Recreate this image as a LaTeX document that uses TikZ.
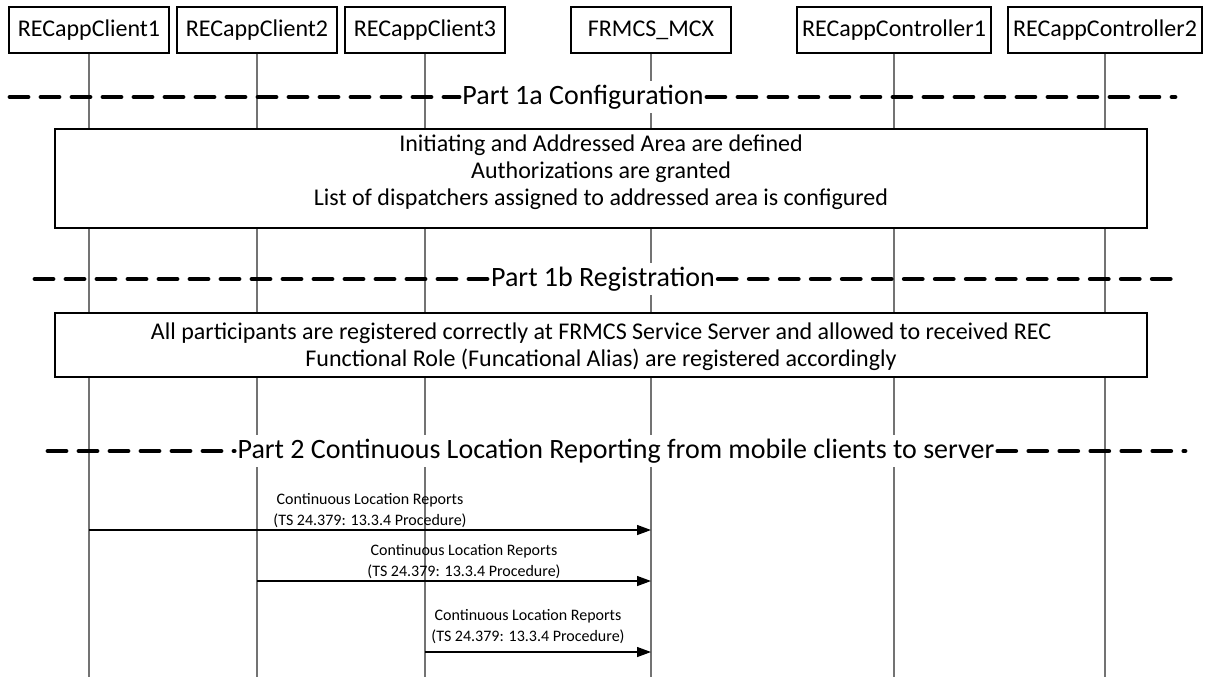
\documentclass[tikz,border=0pt]{standalone}
\usepackage{fontspec}
\setmainfont{Carlito}
\usepackage{tikz}
\usetikzlibrary{positioning,arrows.meta}

\definecolor{lifegray}{gray}{0.45}

\begin{document}
\begin{tikzpicture}[x=0.5pt,y=0.5pt]
	\tikzset{actor/.style={draw,fill=white,line width=0.6pt,minimum width=80pt,minimum height=23pt,inner xsep=2.5pt,font=\fontsize{12}{14}\selectfont}}
	\tikzset{life/.style={draw=lifegray,line width=0.6pt}}
	\tikzset{note/.style={draw,fill=white,line width=1pt,minimum width=546pt}}
	\tikzset{notetext/.style={align=center,inner sep=0pt,font=\fontsize{12}{13.5}\selectfont}}
	\tikzset{sep/.style={line width=2.4pt,line cap=round,dash pattern=on 9pt off 6.5pt}}
	\tikzset{septext/.style={fill=white,inner xsep=1.5pt,inner ysep=2pt,font=\fontsize{14}{16}\selectfont}}
	\tikzset{msg/.style={line width=0.6pt,-{Triangle[length=7pt,width=5pt]}}}
	\tikzset{msgtext/.style={align=center,inner sep=0pt,font=\fontsize{8}{10.5}\selectfont}}
	\useasboundingbox (0,0) rectangle (1208,-677);

	%% participants
	\node[actor] (c1) at (89,-30) {RECappClient1};
	\node[actor] (c2) at (257,-30) {RECappClient2};
	\node[actor] (c3) at (425,-30) {RECappClient3};
	\node[actor] (mcx) at (651,-30) {FRMCS\_MCX};
	\node[actor] (ctl1) at (894,-30) {RECappController1};
	\node[actor] (ctl2) at (1105,-30) {RECappController2};

	%% lifelines
	\coordinate (bot) at (0,-677);
	\foreach \p in {c1,c2,c3,mcx,ctl1,ctl2}
		\draw[life] (\p.south) -- (\p.south |- bot);

	%% Part 1a
	\node[septext] (p1a) at (583,-97) {Part 1a Configuration};
	\coordinate (p1al) at (10,-97);
	\coordinate (p1ar) at (1175,-97);
	\draw[sep] (p1al) -- (p1a) -- (p1ar);

	\node[note,minimum height=49.5pt] (cfg) at (601,-178.5) {};
	\node[notetext,anchor=north] (cfgtxt) at ([yshift=-3pt]cfg.north) {Initiating and Addressed Area are defined\\Authorizations are granted\\List of dispatchers assigned to addressed area is configured};

	%% Part 1b
	\node[septext] (p1b) at (603,-279) {Part 1b Registration};
	\coordinate (p1bl) at (35,-279);
	\coordinate (p1br) at (1172,-279);
	\draw[sep] (p1bl) -- (p1b) -- (p1br);

	\node[note,minimum height=32pt] (reg) at (601,-345) {};
	\node[notetext] (regtxt) at ([yshift=-1pt]reg.center) {All participants are registered correctly at FRMCS Service Server and allowed to received REC\\Functional Role (Funcational Alias) are registered accordingly};

	%% Part 2
	\node[septext] (p2) at (616,-451) {Part 2 Continuous Location Reporting from mobile clients to server};
	\coordinate (p2l) at (48,-451);
	\coordinate (p2r) at (1185,-451);
	\draw[sep] (p2l) -- (p2) -- (p2r);

	\coordinate (m1s) at (c1 |- 0,-530);
	\coordinate (m1e) at (mcx |- 0,-530);
	\coordinate (m2s) at (c2 |- 0,-581);
	\coordinate (m2e) at (mcx |- 0,-581);
	\coordinate (m3s) at (c3 |- 0,-652);
	\coordinate (m3e) at (mcx |- 0,-652);
	\draw[msg] (m1s) -- node[msgtext,above=1pt] {Continuous Location Reports\\(TS 24.379: 13.3.4 Procedure)} (m1e);
	\draw[msg] (m2s) -- node[msgtext,above=1pt,xshift=5pt] {Continuous Location Reports\\(TS 24.379: 13.3.4 Procedure)} (m2e);
	\draw[msg] (m3s) -- node[msgtext,above=4pt,xshift=-5pt] {Continuous Location Reports\\(TS 24.379: 13.3.4 Procedure)} (m3e);
\end{tikzpicture}
\end{document}
